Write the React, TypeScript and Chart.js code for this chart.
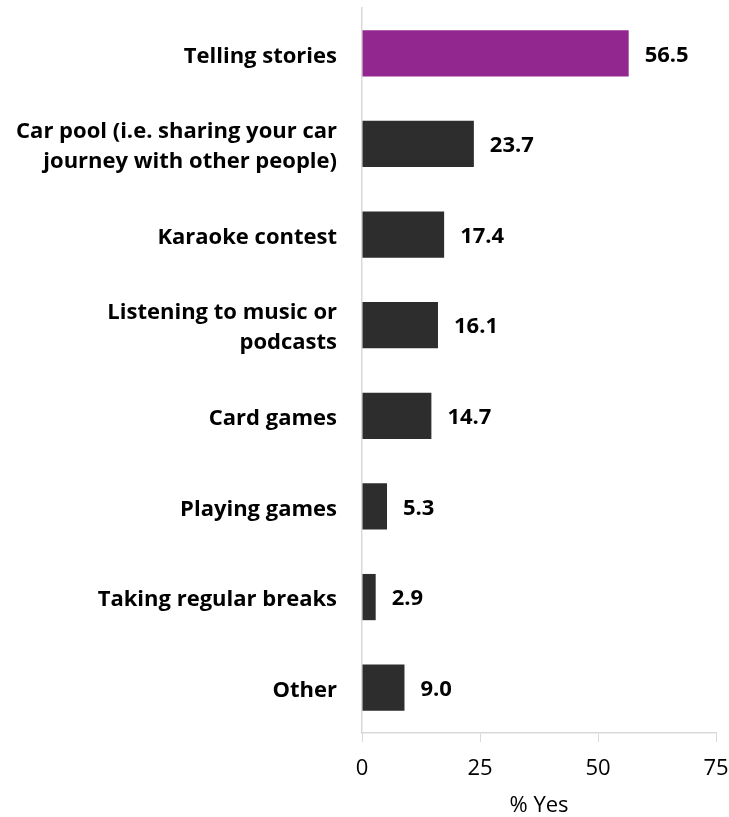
import React, { useEffect, useRef } from "react";
import { Chart, registerables } from "chart.js";

Chart.register(...registerables);

const categories: (string | string[])[] = [
  "Telling stories",
  ["Car pool (i.e. sharing your car", "journey with other people)"],
  "Karaoke contest",
  ["Listening to music or", "podcasts"],
  "Card games",
  "Playing games",
  "Taking regular breaks",
  "Other",
];
const values = [56.5, 23.7, 17.4, 16.1, 14.7, 5.3, 2.9, 9.0];
const barColors = ["#92278F", "#2D2D2D", "#2D2D2D", "#2D2D2D", "#2D2D2D", "#2D2D2D", "#2D2D2D", "#2D2D2D"];
const xTicks = [0, 25, 50, 75];

const FONT = "'Open Sans', Lato, sans-serif";

const valueLabels = {
  id: "valueLabels",
  afterDatasetsDraw(chart: any) {
    const ctx = chart.ctx;
    const meta = chart.getDatasetMeta(0);
    ctx.save();
    ctx.font = `bold 22px ${FONT}`;
    ctx.fillStyle = "#000";
    ctx.textAlign = "left";
    ctx.textBaseline = "middle";
    meta.data.forEach((el: any, i: number) => {
      ctx.fillText(values[i].toFixed(1), el.x + 16, el.y + 2);
    });
    ctx.restore();
  },
};

export default function App() {
  const ref = useRef<HTMLCanvasElement>(null);
  useEffect(() => {
    document.body.style.margin = "0";
    const chart = new Chart(ref.current!, {
      type: "bar",
      data: {
        labels: categories,
        datasets: [
          {
            data: values,
            backgroundColor: barColors,
            barPercentage: 0.51,
            categoryPercentage: 1,
          },
        ],
      },
      plugins: [valueLabels],
      options: {
        indexAxis: "y",
        animation: false,
        responsive: false,
        layout: { padding: { top: 8, right: 13, left: 0, bottom: 0 } },
        plugins: { legend: { display: false }, tooltip: { enabled: false } },
        scales: {
          x: {
            min: 0,
            max: 75,
            afterBuildTicks: (scale: any) => {
              scale.ticks = xTicks.map((v) => ({ value: v }));
            },
            afterFit: (scale: any) => {
              scale.height = 84;
              scale.paddingLeft = 0;
              scale.paddingRight = 0;
            },
            grid: { drawOnChartArea: false, drawTicks: true, tickLength: 9, color: "#D9D9D9" },
            border: { display: true, color: "#D9D9D9", width: 1.5 },
            ticks: { color: "#000", font: { family: FONT, size: 22 }, padding: 14 },
            title: {
              display: true,
              text: "% Yes",
              color: "#000",
              font: { family: FONT, size: 22, lineHeight: 1.0 },
              padding: { top: 2, bottom: 0 },
            },
          },
          y: {
            afterFit: (scale: any) => {
              scale.width = 362;
              scale.paddingTop = 0;
              scale.paddingBottom = 0;
            },
            grid: { display: false },
            border: { display: true, color: "#D9D9D9", width: 1.5 },
            ticks: {
              color: "#000",
              font: { family: FONT, size: 22, weight: "bold", lineHeight: 1.36 },
              padding: 17,
              labelOffset: 3,
            } as any,
          },
        },
      } as any,
    });
    return () => chart.destroy();
  }, []);
  return (
    <div style={{ width: 729, height: 817 }}>
      <canvas ref={ref} width={729} height={817} style={{ display: "block" }} />
    </div>
  );
}
